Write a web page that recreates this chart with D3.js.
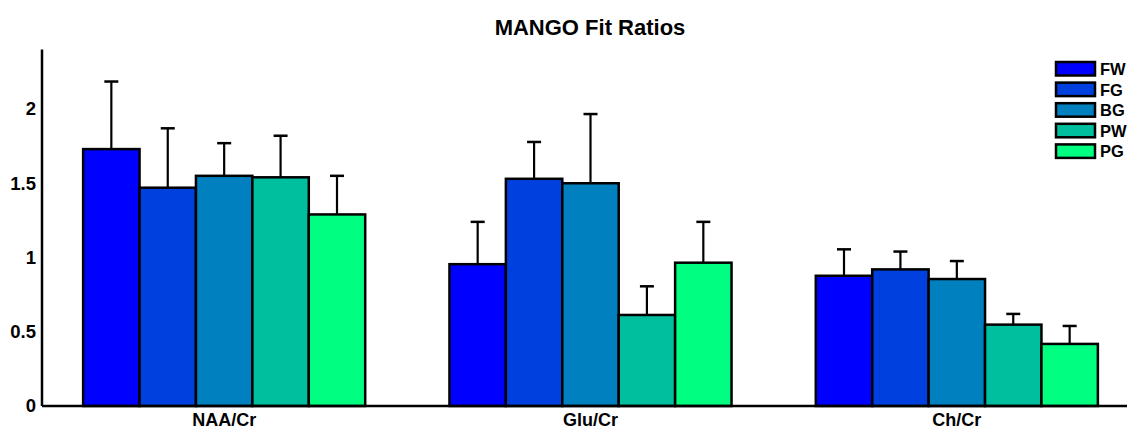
<!DOCTYPE html>
<html><head><meta charset="utf-8">
<script src="https://cdn.jsdelivr.net/npm/d3@7"></script>
<style>body{margin:0;background:#fff}svg{display:block}text{font-family:Arial,"Liberation Sans",sans-serif;font-weight:bold}</style>
</head><body>
<svg id="c" width="1127" height="430"></svg>
<script>
const categories = ["NAA/Cr", "Glu/Cr", "Ch/Cr"];
const seriesNames = ["FW", "FG", "BG", "PW", "PG"];
const colors = ["#0000ff", "#0040df", "#0080bf", "#00bf9f", "#00ff80"];
const FW = [1.73, 0.955, 0.877];
const FG = [1.47, 1.53, 0.92];
const BG = [1.55, 1.50, 0.855];
const PW = [1.54, 0.613, 0.548];
const PG = [1.29, 0.965, 0.418];
const FWerr = [2.185, 1.24, 1.055];
const FGerr = [1.87, 1.778, 1.04];
const BGerr = [1.77, 1.966, 0.976];
const PWerr = [1.82, 0.806, 0.62];
const PGerr = [1.55, 1.24, 0.539];
const yTicks = [0, 0.5, 1, 1.5, 2];

const values = [FW, FG, BG, PW, PG];
const tops = [FWerr, FGerr, BGerr, PWerr, PGerr];
const FONT = "Arial, 'Liberation Sans', sans-serif";

const svg = d3.select("#c");
const x0 = d3.scaleBand().domain(categories).range([41, 1140]).paddingInner(0.23).paddingOuter(0.115);
const x1 = d3.scaleBand().domain(seriesNames).range([0, x0.bandwidth()]);
const y = d3.scaleLinear().domain([0, 2.4]).range([406, 49.6]);

// title
svg.append("text").attr("x", 590).attr("y", 35).attr("text-anchor", "middle")
  .attr("font-size", 22).text("MANGO Fit Ratios");

// y axis
const ya = svg.append("g").attr("transform", "translate(42,0)")
  .call(d3.axisLeft(y).tickValues(yTicks).tickSize(0).tickPadding(6).tickFormat(d => String(d)));
ya.select(".domain").attr("stroke", "#000").attr("stroke-width", 2.5).attr("d", `M0,${y(2.4)}V${y(0)}`);
ya.selectAll("text").attr("font-size", 18.5).attr("font-family", FONT).attr("fill", "#000");

// bars
const rows = [];
categories.forEach((c, i) => seriesNames.forEach((s, j) => rows.push({c, s, j, v: values[j][i], t: tops[j][i]})));
const g = svg.append("g");
const eb = g.selectAll("g.err").data(rows).join("g");
eb.append("line")
  .attr("x1", d => x0(d.c) + x1(d.s) + x1.bandwidth() / 2)
  .attr("x2", d => x0(d.c) + x1(d.s) + x1.bandwidth() / 2)
  .attr("y1", d => y(d.v)).attr("y2", d => y(d.t))
  .attr("stroke", "#000").attr("stroke-width", 2.2);
eb.append("line")
  .attr("x1", d => x0(d.c) + x1(d.s) + x1.bandwidth() / 2 - 7)
  .attr("x2", d => x0(d.c) + x1(d.s) + x1.bandwidth() / 2 + 7)
  .attr("y1", d => y(d.t)).attr("y2", d => y(d.t))
  .attr("stroke", "#000").attr("stroke-width", 2.5);
g.selectAll("rect").data(rows).join("rect")
  .attr("x", d => x0(d.c) + x1(d.s))
  .attr("width", x1.bandwidth())
  .attr("y", d => y(d.v))
  .attr("height", d => y(0) - y(d.v))
  .attr("fill", d => colors[d.j])
  .attr("stroke", "#000").attr("stroke-width", 2.5);

// x axis
const xa = svg.append("g").attr("transform", `translate(0,${y(0)})`)
  .call(d3.axisBottom(x0).tickSize(0).tickPadding(7));
xa.select(".domain").attr("stroke", "#000").attr("stroke-width", 2.5).attr("d", "M42,0H1127");
xa.selectAll("text").attr("font-size", 18).attr("font-family", FONT).attr("fill", "#000");

// legend
const lg = svg.append("g");
seriesNames.forEach((s, j) => {
  const yy = 62 + j * 20.6;
  lg.append("rect").attr("x", 1056).attr("y", yy).attr("width", 39).attr("height", 13.5)
    .attr("fill", colors[j]).attr("stroke", "#000").attr("stroke-width", 2.5);
  lg.append("text").attr("x", 1100).attr("y", yy + 13).attr("font-size", 16.5).text(s);
});
</script>
</body></html>
